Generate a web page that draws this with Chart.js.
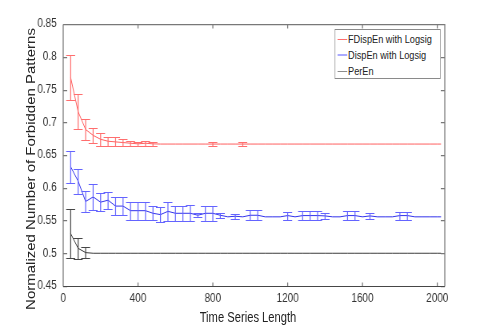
<!DOCTYPE html>
<html><head><meta charset="utf-8">
<script src="https://cdn.jsdelivr.net/npm/chart.js@4.4.0/dist/chart.umd.min.js"></script>
<style>
html,body{margin:0;padding:0;background:#fff;overflow:hidden;}
#outer{position:relative;width:491px;height:327px;overflow:hidden;background:#fff;}
#wrap{position:absolute;left:0;top:0;width:614px;height:327px;transform:scaleX(0.8);transform-origin:0 0;font-family:'Liberation Sans',Arial,sans-serif;}
canvas{position:absolute;left:0;top:0;}
#xtitle{position:absolute;left:210px;width:200px;top:309.7px;font-size:14px;line-height:14px;text-align:center;color:#222;white-space:nowrap;}
#ytitle{position:absolute;left:-111px;top:160px;width:300px;height:18px;font-size:15px;line-height:18px;text-align:center;transform:rotate(-90deg);color:#222;white-space:nowrap;}
#legend{position:absolute;left:418px;top:29px;width:133px;height:50px;box-sizing:border-box;border:1px solid #8a8a8a;background:#fff;font-size:11.5px;color:#222;}
.row{position:absolute;left:0;height:16px;line-height:16px;white-space:nowrap;}
.sw{position:absolute;left:3px;top:7.5px;width:12px;height:1px;}
.lab{position:absolute;left:16px;top:0;}
</style>
</head><body>
<div id="outer"><div id="wrap">
<canvas id="c" width="614" height="327"></canvas>
<div id="ytitle">Normalized Number of Forbidden Patterns</div>
<div id="xtitle">Time Series Length</div>
<div id="legend"></div>
</div></div>
<script>
// ---------------- data ----------------
const lengths = [40,80,120,160,200,240,280,320,360,400,440,480,520,560,600,640,680,720,760,800,
  840,880,920,960,1000,1040,1080,1120,1160,1200,1240,1280,1320,1360,1400,1440,1480,1520,1560,1600,
  1640,1680,1720,1760,1800,1840,1880,1920,1960,2000,2020];

const seriesNames = ['FDispEn with Logsig','DispEn with Logsig','PerEn'];

const fdispenMean = [0.768,0.716,0.689,0.680,0.674,0.671,0.670,0.669,0.668,0.667,0.668,0.667,
  0.6667,0.6667,0.6667,0.6667,0.6667,0.6667,0.6667,0.6667,0.6667,0.6667,0.6667,0.6667,0.6667,
  0.6667,0.6667,0.6667,0.6667,0.6667,0.6667,0.6667,0.6667,0.6667,0.6667,0.6667,0.6667,0.6667,
  0.6667,0.6667,0.6667,0.6667,0.6667,0.6667,0.6667,0.6667,0.6667,0.6667,0.6667,0.6667,0.6667];
const fdispenErr = [0.034,0.027,0.016,0.011,0.0095,0.007,0.007,0.0055,0.004,0.003,0.004,0.003,
  0,0,0,0,0,0,0,0.003,0,0,0,0.003,0,0,0,0,0,0,0,0,0,0,0,0,0,0,0,0,0,0,0,0,0,0,0,0,0,0,0];

const dispenMean = [0.632,0.610,0.579,0.586,0.578,0.581,0.572,0.572,0.565,0.565,0.565,0.561,
  0.559,0.564,0.561,0.561,0.561,0.558,0.561,0.561,0.558,0.5556,0.5565,0.5556,0.558,0.558,
  0.5556,0.5556,0.5556,0.5575,0.5556,0.5575,0.5575,0.5575,0.557,0.5556,0.5556,0.5575,0.5575,
  0.5556,0.557,0.5556,0.5556,0.5556,0.5575,0.5575,0.5556,0.5556,0.5556,0.5556,0.5556];
const dispenErr = [0.024,0.019,0.0165,0.02,0.0135,0.013,0.0135,0.0135,0.014,0.014,0.014,0.011,
  0.011,0.014,0.0115,0.0115,0.0125,0.003,0.0115,0.0115,0.004,0,0.004,0,0.008,0.008,
  0,0,0,0.006,0,0.007,0.007,0.007,0.005,0,0,0.007,0.007,0,0.005,0,0,0,0.006,0.006,0,0,0,0,0];

const perenMean = [0.530,0.5075,0.501,0.5,0.5,0.5,0.5,0.5,0.5,0.5,0.5,0.5,0.5,0.5,0.5,0.5,0.5,
  0.5,0.5,0.5,0.5,0.5,0.5,0.5,0.5,0.5,0.5,0.5,0.5,0.5,0.5,0.5,0.5,0.5,0.5,0.5,0.5,0.5,0.5,0.5,
  0.5,0.5,0.5,0.5,0.5,0.5,0.5,0.5,0.5,0.5,0.5];
const perenErr = [0.037,0.0165,0.009,0,0,0,0,0,0,0,0,0,0,0,0,0,0,0,0,0,0,0,0,0,0,0,0,0,0,0,
  0,0,0,0,0,0,0,0,0,0,0,0,0,0,0,0,0,0,0,0,0];

const xTickValues = [0,400,800,1200,1600,2000];
const xTickLabels = ['0','400','800','1200','1600','2000'];
const yTickValues = [0.45,0.5,0.55,0.6,0.65,0.7,0.75,0.8,0.85];
const yTickLabels = ['0.45','0.5','0.55','0.6','0.65','0.7','0.75','0.8','0.85'];

// ---------------- styles ----------------
const lineColors = ['rgb(255,95,95)','rgb(50,50,235)','rgb(60,60,60)'];
const barColors  = ['rgb(255,110,110)','rgb(100,100,255)','rgb(70,70,70)'];
const legendColors = ['rgb(255,110,110)','rgb(170,170,255)','rgb(140,140,140)'];
const FONT = "'Liberation Sans',Arial,sans-serif";

const means = [fdispenMean, dispenMean, perenMean];
const errs = [fdispenErr, dispenErr, perenErr];

const datasets = seriesNames.map((name, k) => ({
  label: name,
  data: lengths.map((x, i) => ({x: x, y: means[k][i]})),
  borderColor: lineColors[k],
  borderWidth: 1,
  pointRadius: 0,
  fill: false,
  tension: 0
}));

// error bars drawn through the chart scales
const errorBarPlugin = {
  id: 'errorBars',
  afterDatasetsDraw(chart) {
    const {ctx, chartArea, scales: {x, y}} = chart;
    ctx.save();
    ctx.beginPath();
    ctx.rect(chartArea.left, chartArea.top, chartArea.right - chartArea.left, chartArea.bottom - chartArea.top);
    ctx.clip();
    ctx.lineWidth = 1.2;
    means.forEach((m, k) => {
      ctx.strokeStyle = barColors[k];
      lengths.forEach((n, i) => {
        const e = errs[k][i];
        if (!e) return;
        const px = x.getPixelForValue(n);
        const yt = Math.round(y.getPixelForValue(m[i] + e)) + 0.5;
        const yb = Math.round(y.getPixelForValue(m[i] - e)) + 0.5;
        const cw = 5.6;
        ctx.beginPath();
        ctx.moveTo(px, yt); ctx.lineTo(px, yb);
        ctx.moveTo(px - cw, yt); ctx.lineTo(px + cw, yt);
        ctx.moveTo(px - cw, yb); ctx.lineTo(px + cw, yb);
        ctx.stroke();
      });
    });
    ctx.restore();
  }
};

// MATLAB-like box with inward ticks
const framePlugin = {
  id: 'frame',
  afterDraw(chart) {
    const {ctx, chartArea: a, scales: {x, y}} = chart;
    ctx.save();
    ctx.strokeStyle = 'rgb(120,120,120)';
    ctx.lineWidth = 1.25;
    const L = a.left, R = a.right;
    const T = Math.round(a.top) + 0.5, B = Math.round(a.bottom) + 0.5;
    ctx.beginPath();
    ctx.moveTo(L, T); ctx.lineTo(R, T); ctx.lineTo(R, B);
    ctx.moveTo(L, T); ctx.lineTo(L, B);
    const tlv = 4, tlh = 5;
    x.ticks.forEach(t => {
      const px = x.getPixelForValue(t.value);
      ctx.moveTo(px, B); ctx.lineTo(px, B - tlv);
      ctx.moveTo(px, T); ctx.lineTo(px, T + tlv);
    });
    y.ticks.forEach(t => {
      const py = Math.round(y.getPixelForValue(t.value)) + 0.5;
      ctx.moveTo(L, py); ctx.lineTo(L + tlh, py);
      ctx.moveTo(R, py); ctx.lineTo(R - tlh, py);
    });
    ctx.stroke();
    ctx.strokeStyle = 'rgb(70,70,70)';
    ctx.lineWidth = 1;
    ctx.beginPath(); ctx.moveTo(L, B); ctx.lineTo(R, B); ctx.stroke();
    ctx.restore();
  }
};

new Chart(document.getElementById('c'), {
  type: 'line',
  data: {datasets: datasets},
  plugins: [errorBarPlugin, framePlugin],
  options: {
    responsive: false,
    animation: false,
    devicePixelRatio: 1,
    layout: {padding: {left: 0, top: 24, right: 58, bottom: 0}},
    plugins: {legend: {display: false}, tooltip: {enabled: false}, title: {display: false}},
    scales: {
      x: {
        type: 'linear', min: 0, max: 2040,
        afterBuildTicks: s => { s.ticks = xTickValues.map(v => ({value: v})); },
        afterFit: s => { s.height = 41; },
        grid: {display: false, drawTicks: false},
        border: {display: false},
        ticks: {padding: 5, color: '#333', autoSkip: false, maxRotation: 0,
          font: {family: FONT, size: 12.5},
          callback: (v, i) => xTickLabels[i]}
      },
      y: {
        type: 'linear', min: 0.45, max: 0.85,
        afterBuildTicks: s => { s.ticks = yTickValues.map(v => ({value: v})); },
        afterFit: s => { s.width = 79; },
        grid: {display: false, drawTicks: false},
        border: {display: false},
        ticks: {padding: 8, color: '#333', autoSkip: false,
          font: {family: FONT, size: 12.5},
          callback: (v, i) => yTickLabels[i]}
      }
    }
  }
});

// legend (HTML, real text)
const leg = document.getElementById('legend');
seriesNames.forEach((n, k) => {
  const row = document.createElement('div');
  row.className = 'row';
  row.style.top = (1 + k * 16) + 'px';
  row.innerHTML = '<div class="sw" style="background:' + legendColors[k] + (k===1?';height:2px;top:7px':'') + '"></div><span class="lab">' + n + '</span>';
  leg.appendChild(row);
});
</script>
</body></html>
